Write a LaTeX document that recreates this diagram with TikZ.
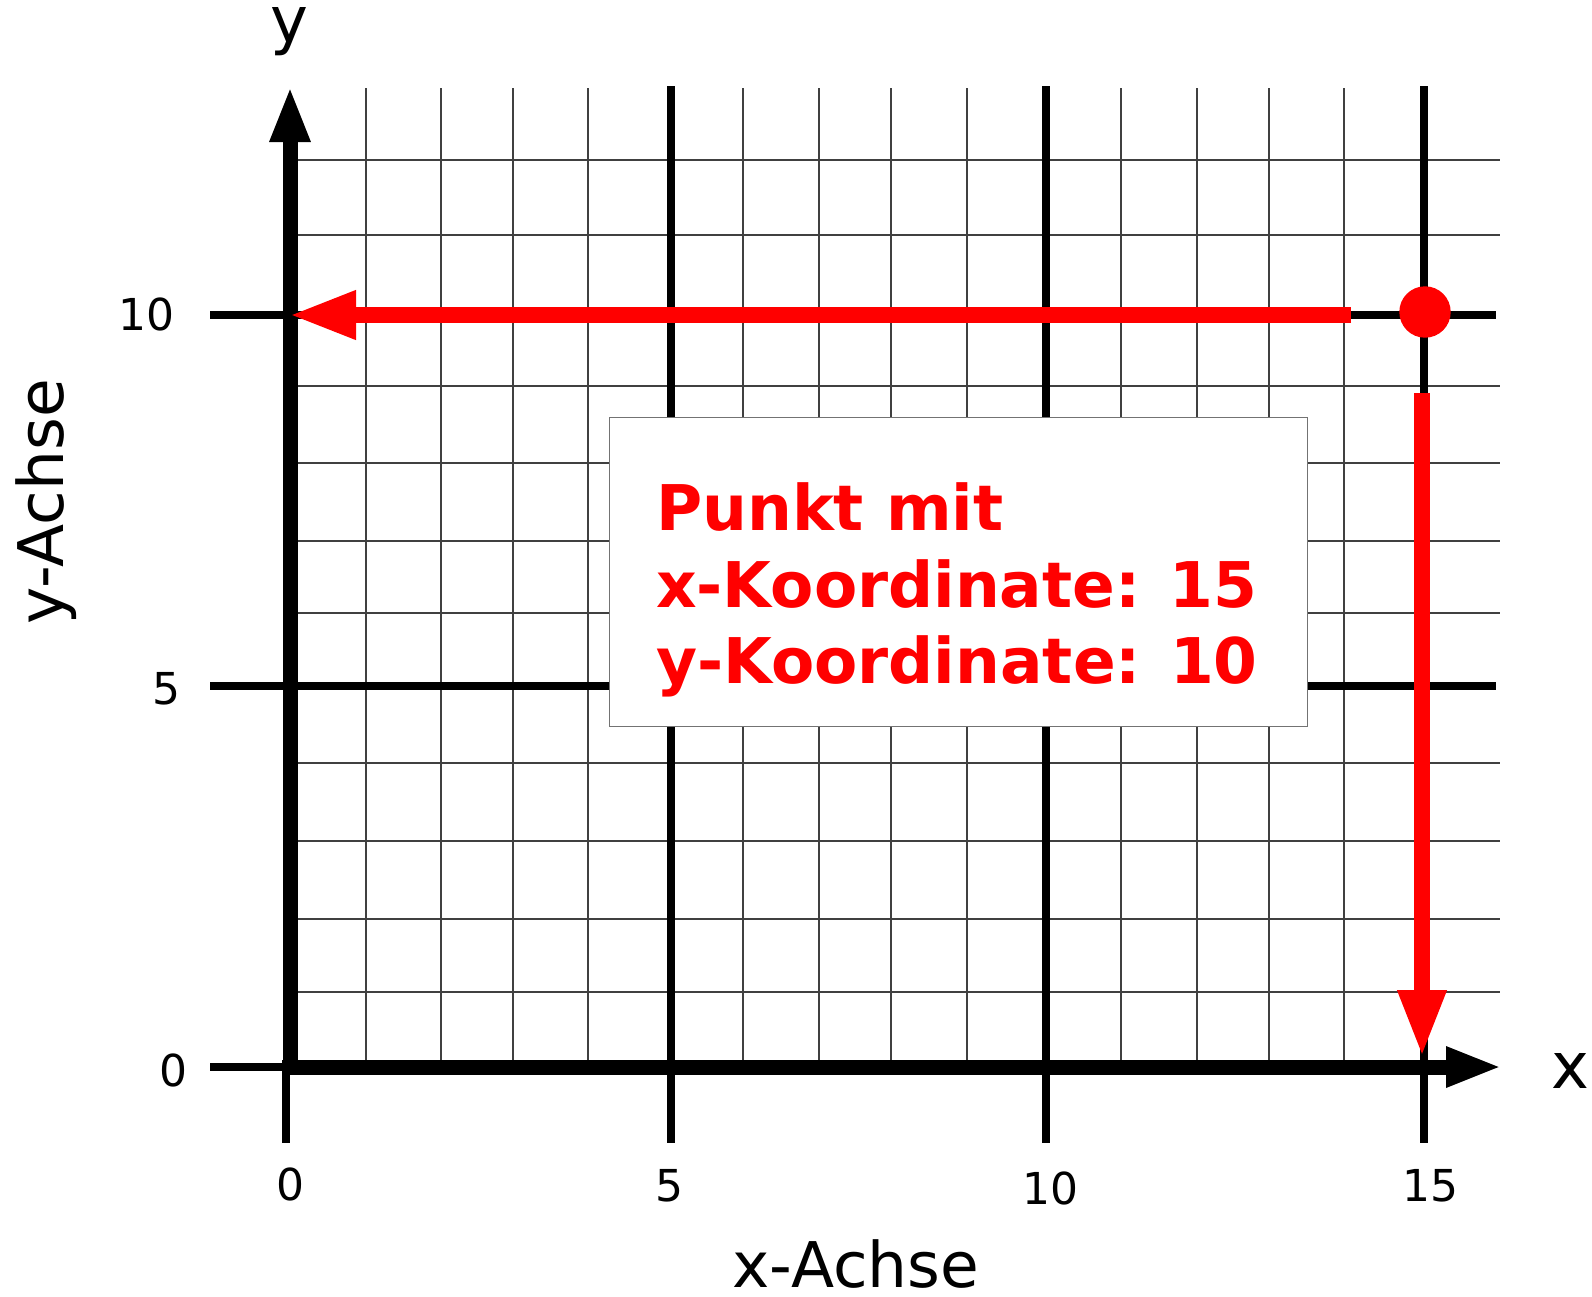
\documentclass[tikz,border=0pt]{standalone}
\usepackage{fontspec}
\setmainfont{DejaVu Sans}
\usetikzlibrary{arrows.meta}
\begin{document}
\begin{tikzpicture}[x=1pt,y=-1pt,
  minor/.style={black!75,line width=1.5pt},
  major/.style={black,line width=7.5pt},
  axisarrow/.style={black,line width=15pt,-{Triangle[length=56pt,width=37pt]}},
  redarrow/.style={red,line width=15.5pt,-{Triangle[length=67pt,width=45pt]}},
  lbl/.style={font=\fontsize{64}{64}\selectfont,inner sep=0pt},
  albl/.style={font=\fontsize{63}{63}\selectfont,inner sep=0pt},
  num/.style={font=\fontsize{44}{44}\selectfont,inner sep=0pt},
  boxtext/.style={font=\fontsize{63}{63}\selectfont\bfseries,text=red,inner sep=0pt,anchor=base west}]
\useasboundingbox (0,0) rectangle (1592,1296);
\fill[white] (0,0) rectangle (1592,1296);

% minor grid
\foreach \x in {366,441,513,588,743,819,891,967,1121,1197,1269,1344}
  \draw[minor] (\x,88) -- (\x,1060);
\foreach \y in {160,235,386,463,541,613,763,841,919,992}
  \draw[minor] (297,\y) -- (1500,\y);

% major grid
\foreach \x in {671,1046,1424}
  \draw[major] (\x,86) -- (\x,1143);
\draw[major] (286,1067) -- (286,1143);
\foreach \y in {315,686}
  \draw[major] (210,\y) -- (1496,\y);
\draw[major] (210,1067) -- (290,1067);

% axes
\coordinate (ys) at (290,1075);
\coordinate (yt) at (290,86);
\coordinate (xs) at (282,1067);
\coordinate (xt) at (1502,1067);
\draw[axisarrow] (ys) -- (yt);
\draw[axisarrow] (xs) -- (xt);

% text box
\node[draw=black!55,line width=1.2pt,fill=white,minimum width=698pt,minimum height=309pt,anchor=north west,inner sep=0pt] (box) at (609,417) {};
\node[boxtext] (t1) at (656,530) {Punkt mit};
\node[boxtext] (t2) at (656,607) {x-Koordinate: 15};
\node[boxtext] (t3) at (656,683) {y-Koordinate: 10};

% red arrows and point
\coordinate (hs) at (1351,315);
\coordinate (ht) at (289,315);
\draw[redarrow] (hs) -- (ht);
\coordinate (vs) at (1422,393);
\coordinate (vt) at (1422,1057);
\draw[redarrow] (vs) -- (vt);
\node[circle,fill=red,minimum size=51.4pt,inner sep=0pt] (pt) at (1425,312) {};

% axis labels
\node[lbl,anchor=base] (ylab) at (289,42) {y};
\node[lbl,anchor=base] (xlab) at (1570,1088) {x};
\node[albl,anchor=base] (xach) at (856,1287) {x-Achse};
\node[albl,rotate=90,anchor=base] (yach) at (63,502) {y-Achse};

% numbers
\node[num,anchor=base east] (l10) at (175,330) {10};
\node[num,anchor=base east] (l5) at (181,704) {5};
\node[num,anchor=base east] (l0) at (188,1086) {0};
\node[num,anchor=base] (b0) at (290,1200) {0};
\node[num,anchor=base] (b5) at (669,1201) {5};
\node[num,anchor=base] (b10) at (1050,1204) {10};
\node[num,anchor=base] (b15) at (1430,1201) {15};
\end{tikzpicture}
\end{document}
